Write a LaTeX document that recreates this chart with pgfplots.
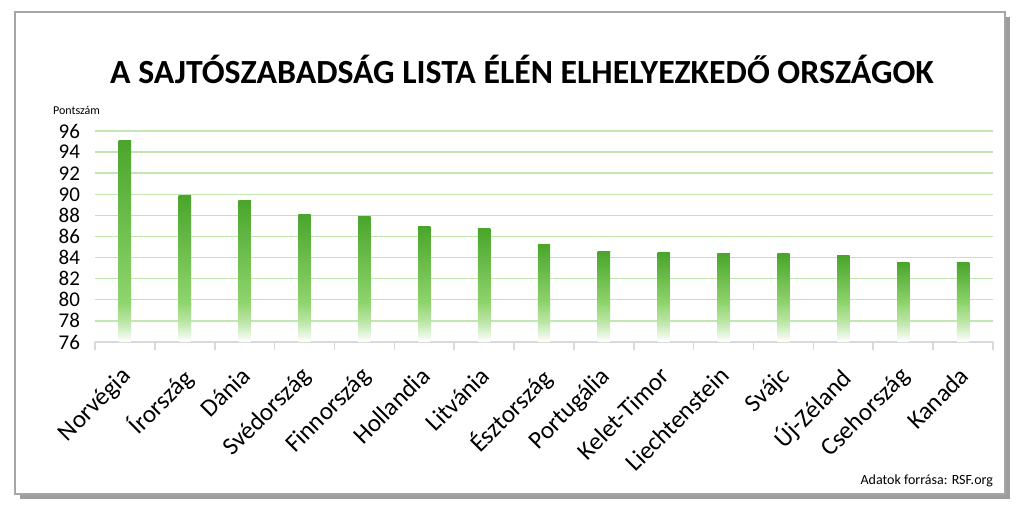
\documentclass[border=0pt]{standalone}
\usepackage{pgfplots}
\pgfplotsset{compat=1.18}
\usepackage{pgfplotstable}
\usepackage{fontspec}
\setmainfont{Carlito}
\usetikzlibrary{shadows}

\definecolor{bardark}{HTML}{4AA52B}
\definecolor{barlight}{HTML}{90D56E}
\definecolor{gridgreen}{HTML}{C2E6B1}
\definecolor{axisgray}{HTML}{D9D9D9}

\pgfplotstableread{
idx score
0  95.18
1  89.91
2  89.48
3  88.15
4  87.94
5  87.00
6  86.79
7  85.31
8  84.60
9  84.49
10 84.47
11 84.40
12 84.23
13 83.58
14 83.53
}\scores

\begin{document}
\begin{tikzpicture}
\path[use as bounding box] (0,0) rectangle (512pt,256pt);
% frame
\path[fill=white, draw=gray!70, line width=0.6pt,
  drop shadow={shadow xshift=2.5pt, shadow yshift=-2.5pt, opacity=0.55, fill=black!70}]
  (7.5pt,9pt) rectangle (502.5pt,250pt);
\node[font=\bfseries\fontsize{16.9}{20}\selectfont] at (261pt,221.5pt)
  {A SAJTÓSZABADSÁG LISTA ÉLÉN ELHELYEZKEDŐ ORSZÁGOK};
\node[font=\fontsize{6}{7}\selectfont, anchor=west] at (23pt,201pt) {Pontszám};
\node[font=\fontsize{7}{8}\selectfont, anchor=east] at (500pt,15.5pt) {Adatok forrása: RSF.org};

\begin{axis}[
  at={(47.5pt,85pt)}, anchor=south west,
  scale only axis,
  width=449pt, height=105.5pt,
  xmin=-0.5, xmax=14.5,
  ymin=76, ymax=96,
  ytick={76,78,...,96},
  xtick={0,...,14},
  xticklabels={Norvégia, Írország, Dánia, Svédország, Finnország, Hollandia,
    Litvánia, Észtország, Portugália, Kelet-Timor, Liechtenstein, Svájc,
    Új-Zéland, Csehország, Kanada},
  minor xtick={-0.5,0.5,...,14.5},
  major tick length=0pt,
  minor tick length=4pt,
  tick align=outside,
  minor tick style={axisgray, line width=0.8pt},
  axis x line*=bottom,
  axis y line*=left,
  x axis line style={axisgray, line width=0.8pt, -},
  y axis line style={draw=none},
  ymajorgrids,
  major grid style={gridgreen, line width=0.7pt},
  yticklabel style={font=\fontsize{10.5}{12}\selectfont, xshift=-4pt},
  ytick style={draw=none},
  xticklabel style={font=\fontsize{12.5}{14}\selectfont, xshift=-2.5pt, rotate=45,
    anchor=north east, inner sep=1pt},
  xticklabel shift=10pt,
  /pgf/number format/assume math mode=true,
]
% faded foot of each bar (76 to 79.7)
\addplot[draw=none, mark=none, nodes near coords={},
  every node near coord/.style={anchor=south, rectangle, inner sep=0pt,
    minimum width=6.2pt, minimum height=3.7*5.275pt,
    bottom color=white, top color=barlight, middle color=barlight!60!white}]
  table[x=idx, y expr=76] {\scores};
% main body of each bar (79.6 to score)
\addplot[draw=none, mark=none, nodes near coords={},
  visualization depends on={(\thisrow{score}-79.6)*5.275 \as \barh},
  every node near coord/.style={anchor=north, rectangle, inner sep=0pt,
    minimum width=6.2pt, minimum height=\barh pt,
    top color=bardark, bottom color=barlight}]
  table[x=idx, y=score] {\scores};
\end{axis}
\end{tikzpicture}
\end{document}
